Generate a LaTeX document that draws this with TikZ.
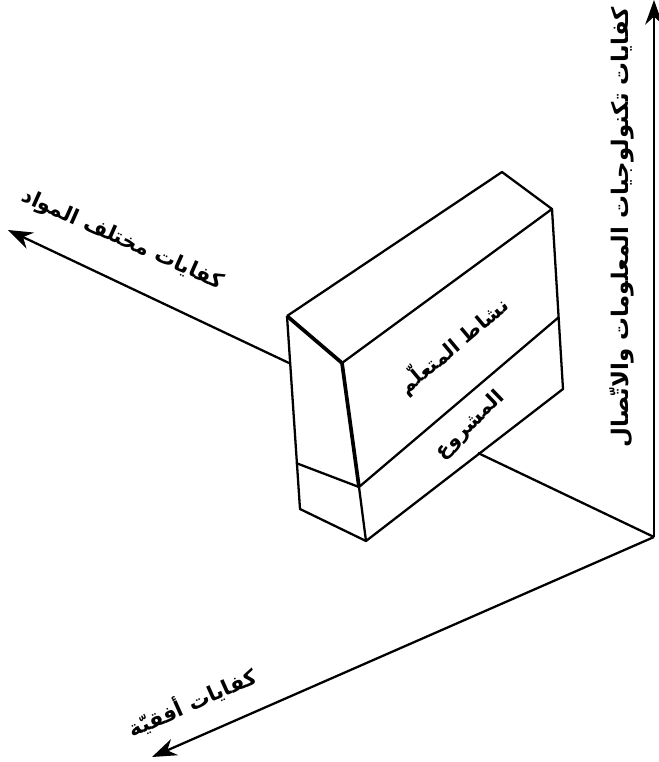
\documentclass[tikz,border=0pt]{standalone}
\usepackage{fontspec}
\usetikzlibrary{arrows.meta}
\TeXXeTstate=1
\newfontfamily\arabicfont[Script=Arabic]{DejaVu Sans}
\tikzset{
    edge/.style = {line width=1.3pt, line join=round},
    heavy/.style = {line width=2.1pt, line join=round},
    axis/.style = {line width=1.3pt, -{Stealth[length=14pt,width=10pt]}},
    label/.style = {font=\arabicfont\bfseries\fontsize{12pt}{14pt}\selectfont, inner sep=0pt},
    longlabel/.style = {font=\arabicfont\bfseries\fontsize{13pt}{15pt}\selectfont, inner sep=0pt},
    boxlabel/.style = {font=\arabicfont\bfseries\fontsize{11.5pt}{14pt}\selectfont, inner sep=0pt}
}
\begin{document}
\begin{tikzpicture}[x=0.02cm, y=-0.02cm]
    \useasboundingbox (0,0) rectangle (659,762);
    % box corners
    \coordinate (backtop) at (502,172);
    \coordinate (backleft) at (287,316);
    \coordinate (backright) at (552,209);
    \coordinate (front) at (342,363);
    \coordinate (frontmid) at (359,487);
    \coordinate (frontlow) at (366,541);
    \coordinate (leftmid) at (296,463);
    \coordinate (leftlow) at (300,509);
    \coordinate (rightmid) at (559,317);
    \coordinate (rightlow) at (563,389);
    % axes
    \coordinate (origin) at (654,537);
    \coordinate (uptip) at (654,0);
    \coordinate (lefttip) at (8,230);
    \coordinate (downtip) at (152,757);
    \coordinate (enter) at (478,453);
    \coordinate (leave) at (289,363);
    \draw[axis] (origin) -- (uptip);
    \draw[axis] (origin) -- (downtip);
    \draw[axis] (leave) -- (lefttip);
    \draw[edge] (origin) -- (enter);
    % box
    \draw[edge] (backleft) -- (backtop) -- (backright) -- (front);
    \draw[edge] (backright) -- (rightlow) -- (frontlow) -- (leftlow) -- (backleft);
    \draw[edge] (leftmid) -- (frontmid) -- (rightmid);
    \draw[heavy] (backleft) -- (front);
    \draw[heavy] (front) -- (frontmid);
    \draw[edge] (frontmid) -- (frontlow);
    % labels
    \node[longlabel, rotate=90] (techlabel) at (622,227) {\beginR كفايات تكنولوجيات المعلومات والاتّصال\endR};
    \node[label, rotate=-24] (subjlabel) at (122,240) {\beginR كفايات مختلف المواد\endR};
    \node[label, rotate=24] (horizlabel) at (192,702) {\beginR كفايات أفقيّة\endR};
    \node[boxlabel, rotate=40] (activelabel) at (453,345) {\beginR نشاط المتعلّم\endR};
    \node[boxlabel, rotate=44] (projectlabel) at (470,425) {\beginR المشروع\endR};
\end{tikzpicture}
\end{document}
